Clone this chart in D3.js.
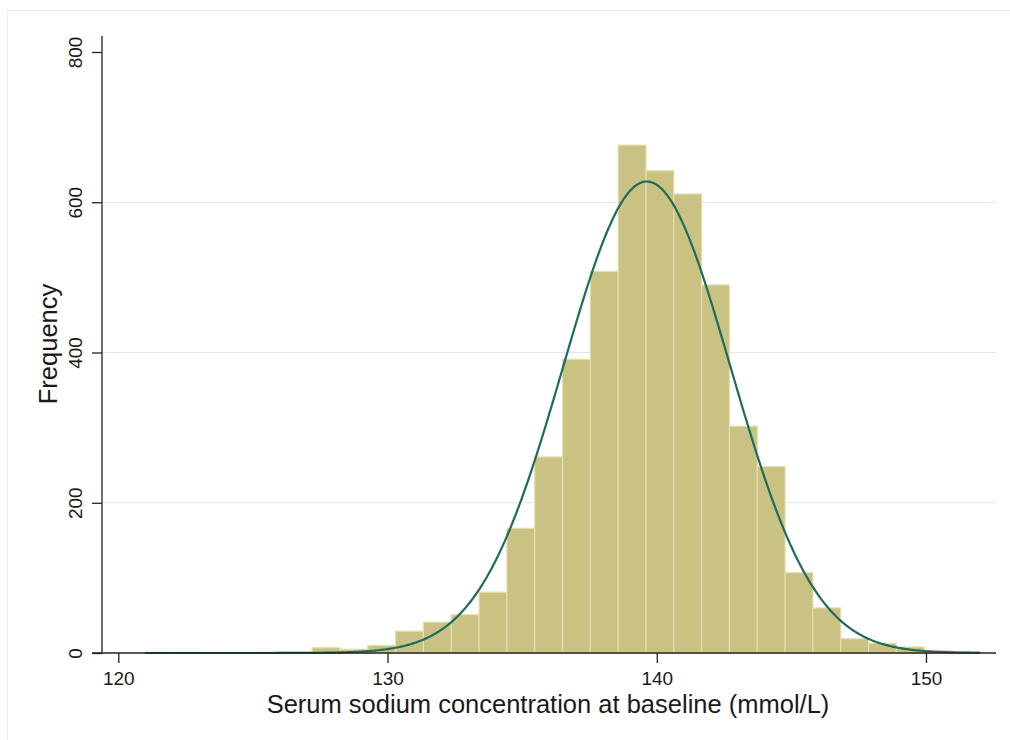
<!DOCTYPE html>
<html lang="en">
<head>
	<meta charset="UTF-8">
	<title>Serum sodium histogram</title>

	<script src="https://cdn.jsdelivr.net/npm/d3@7"></script>

	<style>
		body {
			margin: 0;
			background: #fff;
		}

		text {
			font-family: "Liberation Sans", Arial, sans-serif;
			fill: #1a1a1a;
		}

		.bar {
			fill: #c9c283;
			stroke: #e3dfae;
			stroke-width: 1.2;
		}
	</style>

</head>
<body>

<script type="text/javascript">

	// histogram: 30 bins from 121 to 152 mmol/L
	var binStart = 121;
	var binWidth = 31 / 30;
	var counts = [1, 1, 0, 0, 1, 1, 7, 5, 10, 29, 41, 51, 81, 166, 261, 391, 508, 676, 642, 611, 490, 302, 248, 107, 60, 19, 13, 8, 3, 2];

	var xTicks = [120, 130, 140, 150];
	var yTicks = [0, 200, 400, 600, 800];
	var gridTicks = [200, 400, 600];

	// normal overlay
	var normalMean = 139.63;
	var normalSd = 3.11;

	var width = 1010, height = 740;

	var svg = d3.select('body').append('svg')
		.attr('width', width)
		.attr('height', height);

	// faint outer frame
	svg.append('rect')
		.attr('x', 7.5)
		.attr('y', 10.5)
		.attr('width', 1010)
		.attr('height', 740)
		.attr('fill', 'none')
		.attr('stroke', '#ececec');

	var x = d3.scaleLinear()
		.domain([120, 150])
		.range([118.3, 926]);

	var y = d3.scaleLinear()
		.domain([0, 800])
		.range([653, 52]);

	var axisLeftX = 102;
	var axisRightX = 996;

	// grid
	svg.append('g').selectAll('line')
		.data(gridTicks)
		.enter().append('line')
		.attr('x1', axisLeftX)
		.attr('x2', axisRightX)
		.attr('y1', function (d) { return y(d); })
		.attr('y2', function (d) { return y(d); })
		.attr('stroke', '#dde9e9')
		.attr('stroke-width', 1.2);

	var data = counts.map(function (c, i) {
		return {x0: binStart + i * binWidth, x1: binStart + (i + 1) * binWidth, n: c};
	});

	svg.append('g').selectAll('.bar')
		.data(data)
		.enter().append('rect')
		.attr('class', 'bar')
		.attr('x', function (d) { return x(d.x0); })
		.attr('width', function (d) { return x(d.x1) - x(d.x0); })
		.attr('y', function (d) { return y(d.n); })
		.attr('height', function (d) { return y(0) - y(d.n); });

	// normal density scaled to counts
	var total = d3.sum(counts);
	var pts = d3.range(binStart, binStart + counts.length * binWidth + 0.001, 0.05);
	var normal = function (v) {
		var z = (v - normalMean) / normalSd;
		return total * binWidth * Math.exp(-0.5 * z * z) / (normalSd * Math.sqrt(2 * Math.PI));
	};

	svg.append('path')
		.datum(pts)
		.attr('fill', 'none')
		.attr('stroke', '#1f6b5c')
		.attr('stroke-width', 2.2)
		.attr('d', d3.line()
			.x(function (d) { return x(d); })
			.y(function (d) { return y(normal(d)); }));

	// axes
	var axisX = d3.axisBottom(x)
		.tickValues(xTicks)
		.tickSize(10)
		.tickSizeOuter(0)
		.tickPadding(9);

	var gx = svg.append('g')
		.attr('transform', 'translate(0,' + y(0) + ')')
		.call(axisX);
	gx.select('.domain').remove();
	gx.selectAll('line').attr('stroke', '#222').attr('stroke-width', 1.3);
	gx.selectAll('text').style('font-size', '19px').attr('fill', '#1a1a1a');

	svg.append('line')
		.attr('x1', axisLeftX - 10)
		.attr('x2', axisRightX)
		.attr('y1', y(0))
		.attr('y2', y(0))
		.attr('stroke', '#222')
		.attr('stroke-width', 1.3);

	var axisY = d3.axisLeft(y)
		.tickValues(yTicks)
		.tickSize(10)
		.tickSizeOuter(0);

	var gy = svg.append('g')
		.attr('transform', 'translate(' + axisLeftX + ',0)')
		.call(axisY);
	gy.select('.domain').remove();
	gy.selectAll('line').attr('stroke', '#222').attr('stroke-width', 1.3);
	gy.selectAll('text')
		.style('font-size', '19px')
		.attr('fill', '#1a1a1a')
		.attr('x', null)
		.attr('text-anchor', 'middle')
		.attr('transform', 'translate(-27,0) rotate(-90)')
		.attr('dy', '0.35em');

	svg.append('line')
		.attr('x1', axisLeftX)
		.attr('x2', axisLeftX)
		.attr('y1', y(0))
		.attr('y2', 36)
		.attr('stroke', '#222')
		.attr('stroke-width', 1.3);

	// titles
	svg.append('text')
		.attr('x', 548)
		.attr('y', 713)
		.attr('text-anchor', 'middle')
		.style('font-size', '25.5px')
		.text('Serum sodium concentration at baseline (mmol/L)');

	svg.append('text')
		.attr('transform', 'translate(48,344) rotate(-90)')
		.attr('text-anchor', 'middle')
		.attr('dy', '0.35em')
		.style('font-size', '25.5px')
		.text('Frequency');

</script>

</body>
</html>
